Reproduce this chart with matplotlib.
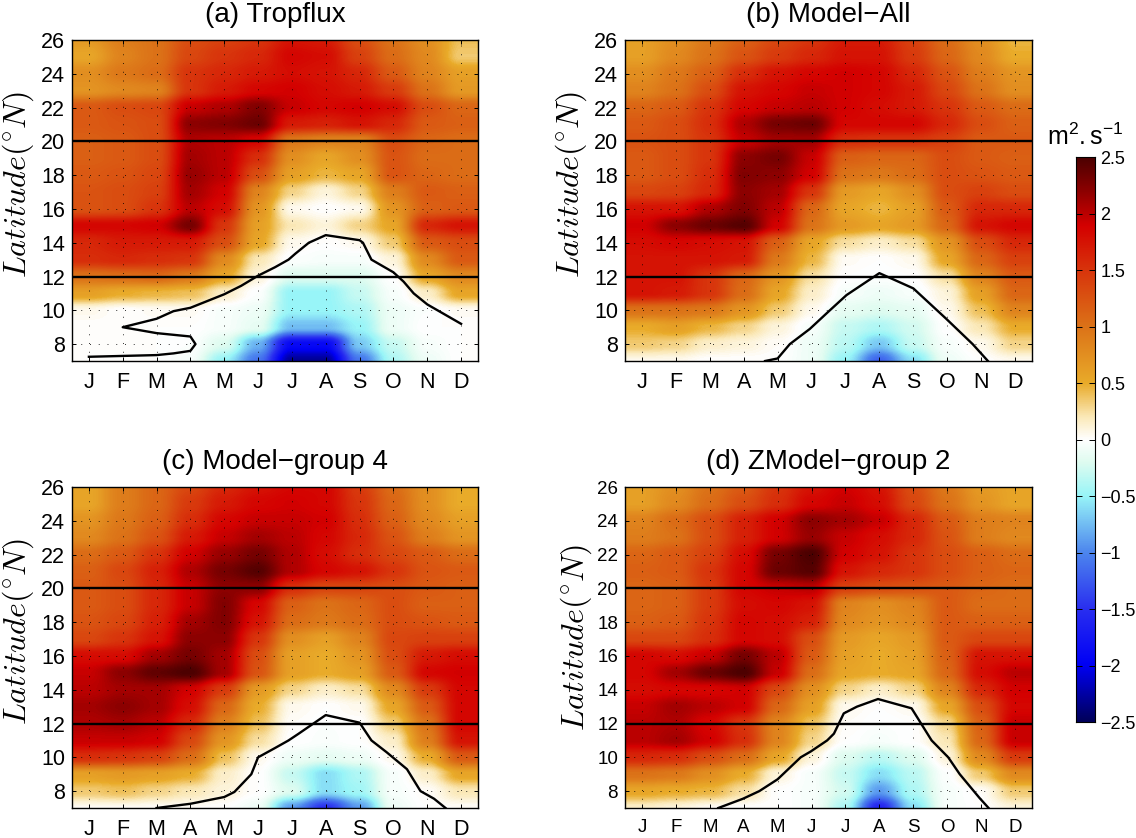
import numpy as np
import matplotlib
matplotlib.use('Agg')
import matplotlib.pyplot as plt
from matplotlib.colors import LinearSegmentedColormap

plt.rcParams['font.family'] = ['Liberation Sans', 'DejaVu Sans']
plt.rcParams['mathtext.fontset'] = 'cm'

months = ['J', 'F', 'M', 'A', 'M', 'J', 'J', 'A', 'S', 'O', 'N', 'D']
lat_ticks = list(range(8, 27, 2))
cbar_ticks = [-2.5, -2, -1.5, -1, -0.5, 0, 0.5, 1, 1.5, 2, 2.5]
cbar_labels = ['\u22122.5', '\u22122', '\u22121.5', '\u22121', '\u22120.5', '0', '0.5', '1', '1.5', '2', '2.5']

# rows run from 7N (first) to 26N (last), columns J..D
tropflux = [
    [0, 0, 0, -.05, -.5, -1.1, -2.3, -2.3, -1.1, -.4, -.1, 0],
    [0, 0, 0, -.02, -.2, -.8, -1.9, -1.9, -.7, -.3, -.05, 0],
    [0, 0, 0, 0, -.05, -.15, -.75, -.75, -.5, -.1, 0, 0],
    [.05, 0, .03, .03, -.05, -.1, -.5, -.5, -.4, -.1, -.02, .03],
    [.6, .5, .45, .4, .15, -.02, -.5, -.5, -.3, -.05, .15, .55],
    [1.0, 1.05, 1.1, .95, .55, .1, -.2, -.2, -.2, 0, .55, .8],
    [1.55, 1.6, 1.55, 1.5, .8, .2, -.02, -.05, -.05, .1, .8, 1.2],
    [1.6, 1.7, 1.7, 1.7, 1.3, .55, .05, 0, .05, .35, 1.2, 1.3],
    [1.85, 1.85, 1.9, 2.3, 1.5, .6, .2, .1, .3, .55, 1.6, 1.75],
    [1.25, 1.3, 1.5, 2.0, 1.8, .7, .05, 0, .05, .7, 1.15, 1.2],
    [1.25, 1.3, 1.4, 2.1, 1.9, .85, .3, .1, .3, .9, 1.2, 1.15],
    [1.2, 1.25, 1.35, 2.15, 2.0, 1.3, .6, .45, .55, 1.25, 1.1, 1.05],
    [1.15, 1.2, 1.3, 2.1, 2.0, 1.55, .75, .55, .75, 1.25, 1.05, 1.05],
    [1.15, 1.2, 1.3, 2.05, 2.0, 1.85, .95, .85, .85, 1.3, 1.1, 1.05],
    [1.2, 1.25, 1.3, 2.2, 2.25, 2.35, 1.7, 1.65, 1.75, 1.6, 1.2, 1.15],
    [1.2, 1.3, 1.35, 1.95, 2.05, 2.25, 1.95, 1.85, 1.9, 1.8, 1.3, 1.1],
    [.7, .8, .85, 1.5, 1.7, 1.85, 1.9, 1.8, 1.7, 1.45, 1.0, .65],
    [.75, .95, 1.05, 1.5, 1.6, 1.7, 1.8, 1.75, 1.6, 1.2, .85, .6],
    [.55, .85, 1.0, 1.35, 1.5, 1.6, 1.85, 1.8, 1.4, 1.05, .8, .35],
    [.65, .9, 1.0, 1.3, 1.4, 1.5, 1.75, 1.7, 1.3, 1.0, .75, .4],
]
model_all = [
    [.05, .05, 0, 0, 0, -.1, -.5, -1.2, -.6, -.1, 0, .05],
    [.35, .3, .15, .1, .02, -.1, -.35, -.7, -.3, -.05, .05, .3],
    [.5, .6, .45, .3, .1, -.05, -.3, -.4, -.25, 0, .2, .5],
    [1.0, 1.0, .95, .7, .35, .05, -.15, -.2, -.15, .05, .4, .85],
    [1.75, 1.7, 1.5, 1.05, .55, .15, -.05, -.1, -.05, .1, .6, 1.1],
    [1.75, 1.75, 1.5, 1.1, .7, .25, 0, -.02, 0, .25, .85, 1.2],
    [1.75, 1.75, 1.75, 1.7, .95, .45, .03, 0, .05, .55, 1.1, 1.4],
    [1.8, 1.85, 1.8, 1.75, 1.15, .55, .25, .15, .25, .7, 1.3, 1.6],
    [1.9, 2.2, 2.35, 2.45, 1.9, 1.0, .65, .55, .65, 1.1, 1.75, 1.85],
    [1.75, 1.75, 2.05, 2.25, 2.0, 1.1, .55, .45, .6, 1.2, 1.6, 1.6],
    [1.35, 1.4, 1.6, 2.2, 2.1, 1.5, .65, .55, .75, 1.3, 1.4, 1.3],
    [1.2, 1.3, 1.55, 2.25, 2.2, 1.9, 1.0, .95, 1.05, 1.3, 1.25, 1.2],
    [1.2, 1.3, 1.5, 2.2, 2.3, 1.95, 1.15, 1.1, 1.1, 1.3, 1.2, 1.15],
    [1.25, 1.3, 1.5, 1.95, 2.1, 2.1, 1.55, 1.5, 1.5, 1.4, 1.2, 1.2],
    [1.2, 1.3, 1.55, 2.05, 2.3, 2.35, 1.85, 1.85, 1.85, 1.6, 1.3, 1.15],
    [1.1, 1.2, 1.5, 1.85, 1.95, 2.0, 1.9, 1.8, 1.7, 1.5, 1.2, 1.05],
    [.85, 1.0, 1.3, 1.75, 1.85, 1.95, 1.9, 1.85, 1.7, 1.35, 1.0, .75],
    [.75, .95, 1.15, 1.55, 1.75, 1.85, 1.9, 1.85, 1.6, 1.25, .9, .7],
    [.6, .8, 1.0, 1.25, 1.45, 1.6, 1.75, 1.75, 1.45, 1.1, .8, .5],
    [.6, .75, .95, 1.15, 1.35, 1.5, 1.7, 1.7, 1.4, 1.05, .75, .45],
]
group_4 = [
    [.03, .03, .02, .02, 0, -.1, -.9, -1.5, -.9, -.1, 0, .02],
    [.35, .4, .3, .2, .1, 0, -.2, -.6, -.45, -.05, .02, .2],
    [.6, .65, .6, .5, .15, 0, -.3, -.6, -.4, -.05, .15, .55],
    [1.55, 1.5, 1.4, 1.05, .4, .05, -.1, -.15, -.1, .05, .5, 1.2],
    [1.95, 1.95, 1.9, 1.35, .7, .25, 0, -.03, 0, .15, .9, 1.75],
    [2.05, 2.1, 2.0, 1.6, .9, .4, .02, -.02, 0, .35, 1.0, 1.85],
    [2.1, 2.2, 2.1, 1.8, 1.1, .5, .05, 0, .05, .55, 1.2, 1.85],
    [2.0, 2.1, 2.1, 1.9, 1.45, .65, .3, .15, .25, .8, 1.45, 1.85],
    [1.95, 2.2, 2.4, 2.5, 2.1, 1.25, .6, .5, .6, 1.2, 1.85, 1.9],
    [1.8, 1.8, 2.1, 2.3, 2.1, 1.3, .6, .5, .7, 1.3, 1.7, 1.8],
    [1.35, 1.5, 1.75, 2.2, 2.2, 1.5, .75, .6, .85, 1.35, 1.4, 1.4],
    [1.25, 1.35, 1.65, 2.1, 2.25, 1.75, 1.05, .95, 1.05, 1.3, 1.25, 1.2],
    [1.2, 1.3, 1.6, 1.95, 2.25, 1.85, 1.15, 1.0, 1.1, 1.3, 1.15, 1.15],
    [1.2, 1.3, 1.6, 1.95, 2.2, 2.2, 1.55, 1.35, 1.35, 1.3, 1.2, 1.15],
    [1.15, 1.35, 1.65, 2.05, 2.3, 2.45, 2.05, 1.85, 1.75, 1.5, 1.25, 1.2],
    [1.05, 1.2, 1.5, 1.9, 2.15, 2.3, 2.05, 1.8, 1.55, 1.35, 1.2, 1.05],
    [.8, 1.0, 1.25, 1.7, 1.95, 2.1, 2.0, 1.85, 1.6, 1.25, .9, .7],
    [.7, .95, 1.15, 1.55, 1.85, 1.95, 1.95, 1.9, 1.55, 1.15, .8, .6],
    [.55, .9, 1.1, 1.45, 1.7, 1.85, 1.9, 1.85, 1.5, 1.1, .75, .5],
    [.55, .9, 1.1, 1.35, 1.6, 1.75, 1.85, 1.85, 1.45, 1.05, .75, .5],
]
group_2 = [
    [.15, .1, .03, 0, 0, -.05, -.4, -1.6, -.6, -.05, 0, .1],
    [.55, .5, .45, .25, 0, -.05, -.25, -.9, -.4, -.05, .02, .35],
    [1.0, .95, .75, .5, .1, -.05, -.3, -.6, -.35, -.02, .35, .8],
    [1.6, 1.55, 1.3, 1.05, .55, .1, -.2, -.35, -.2, .1, .8, 1.45],
    [2.0, 2.1, 1.9, 1.55, .85, .3, 0, -.05, 0, .2, 1.1, 1.95],
    [2.0, 2.05, 1.85, 1.5, .85, .4, .02, -.02, 0, .3, 1.15, 1.95],
    [1.95, 2.1, 2.0, 1.9, 1.1, .6, .05, 0, .05, .55, 1.3, 1.85],
    [1.8, 1.85, 1.85, 1.9, 1.35, .75, .3, .15, .3, .85, 1.6, 1.9],
    [1.85, 2.1, 2.35, 2.5, 1.95, 1.05, .55, .5, .55, 1.1, 1.8, 2.0],
    [1.85, 1.8, 1.95, 2.3, 2.0, 1.2, .6, .5, .6, 1.15, 1.75, 1.75],
    [1.35, 1.35, 1.55, 1.85, 1.8, 1.3, .65, .55, .65, 1.2, 1.35, 1.35],
    [1.15, 1.2, 1.5, 1.85, 1.8, 1.65, .8, .7, .8, 1.2, 1.15, 1.15],
    [1.1, 1.15, 1.45, 1.8, 1.85, 1.75, .85, .75, .85, 1.2, 1.05, 1.05],
    [1.1, 1.15, 1.45, 1.85, 1.95, 2.0, 1.4, 1.3, 1.25, 1.2, 1.1, 1.05],
    [1.15, 1.2, 1.5, 1.85, 2.35, 2.45, 1.75, 1.6, 1.5, 1.3, 1.15, 1.1],
    [1.1, 1.2, 1.4, 1.8, 2.3, 2.5, 1.9, 1.75, 1.5, 1.3, 1.15, 1.05],
    [.9, 1.0, 1.3, 1.65, 1.9, 2.15, 1.95, 1.8, 1.6, 1.25, .9, .8],
    [.85, 1.05, 1.3, 1.65, 1.9, 2.2, 2.1, 1.95, 1.6, 1.2, .9, .85],
    [.6, .8, 1.05, 1.3, 1.55, 1.85, 1.95, 1.8, 1.35, 1.0, .7, .55],
    [.6, .75, 1.0, 1.2, 1.5, 1.75, 1.9, 1.75, 1.3, .95, .65, .55],
]

# black contour
curve_a_x = [1, 3, 3.5, 4, 4.15, 4, 3, 2, 3, 3.5, 4, 4.5, 5, 5.5, 6, 6.5, 6.9, 7.1, 7.5, 8, 9, 9.1, 9.35, 10, 10.3, 10.6, 11, 12]
curve_a_y = [7.25, 7.35, 7.45, 7.6, 8, 8.45, 8.65, 9, 9.5, 9.95, 10.15, 10.55, 10.95, 11.45, 12.05, 12.55, 13, 13.35, 14, 14.45, 14.15, 14, 13, 12.25, 11.7, 11, 10.35, 9.2]
curve_b_x = [4.63, 5.0, 5.36, 5.95, 6.54, 7.03, 8, 9, 9.97, 10.75, 11.2]
curve_b_y = [7, 7.15, 8, 8.9, 10, 10.9, 12.2, 11.3, 9.5, 8, 7]
curve_c_x = [3, 4, 5, 5.3, 5.8, 6, 6.5, 6.9, 7.2, 7.6, 8, 9, 9.35, 9.8, 10.4, 10.8, 11.2, 11.54]
curve_c_y = [7, 7.25, 7.65, 7.95, 9, 10, 10.55, 11, 11.4, 11.95, 12.5, 12.05, 11, 10.3, 9.3, 8, 7.55, 7]
curve_d_x = [3.25, 3.98, 4.46, 5, 5.68, 5.98, 6.46, 6.66, 6.95, 7.34, 7.96, 8.95, 9.54, 10.03, 10.37, 10.95, 11.22]
curve_d_y = [7, 7.55, 8, 8.7, 10, 10.35, 11, 11.4, 12.6, 13, 13.45, 12.9, 11, 10, 9, 7.6, 7]

W, H = 1136, 838
cmap = LinearSegmentedColormap.from_list('tx', [
    (0.0, '#00005a'), (0.1, '#0000f5'), (0.2, '#2a2ff0'), (0.3, '#4d86ee'),
    (0.4, '#98f5f8'), (0.46, '#dffcf0'), (0.5, '#ffffff'), (0.54, '#fbe9b8'),
    (0.6, '#e9ab2a'), (0.7, '#dc7318'), (0.8, '#d8350c'), (0.88, '#d40000'),
    (0.94, '#8e0000'), (1.0, '#4d0000')], N=256)


def pixel_axes(fig, left, top, right, bottom):
    return fig.add_axes([left / W, 1 - bottom / H, (right - left) / W, (bottom - top) / H])


def draw_panel(ax, data, cx, cy, title, tick_size, label_x, label_y):
    ax.imshow(np.array(data), origin='lower', extent=(0.5, 12.5, 6.5, 26.5), aspect='auto',
              cmap=cmap, vmin=-2.5, vmax=2.5, interpolation='hanning')
    ax.set_xlim(0.5, 12.5)
    ax.set_ylim(7, 26)
    ax.axhline(20, color='black', lw=1.7)
    ax.axhline(12, color='black', lw=1.7)
    ax.plot(cx, cy, color='black', lw=1.7)
    ax.set_xticks(range(1, 13))
    ax.set_xticklabels(months)
    ax.set_yticks(lat_ticks)
    ax.tick_params(axis='both', direction='in', top=True, right=True, length=3, width=0.7, labelsize=tick_size)
    ax.tick_params(axis='x', pad=8)
    ax.tick_params(axis='y', pad=5)
    ax.grid(True, color='black', lw=0.7, ls=(0, (1, 8)), alpha=0.8)
    ax.set_ylabel(r'$Latitude(^{\circ}N)$', fontsize=23)
    # label_x is the right edge of the rotated label
    ax.yaxis.set_label_coords(label_x, label_y)
    ax.set_title(title, fontsize=20, pad=13)
    for s in ax.spines.values():
        s.set_linewidth(1.0)


fig = plt.figure(figsize=(W / 100, H / 100), dpi=100)

ax_a = pixel_axes(fig, 72, 40, 478, 361)
ax_b = pixel_axes(fig, 625, 40, 1032, 361)
ax_c = pixel_axes(fig, 72, 487, 478, 808)
ax_d = pixel_axes(fig, 625, 487, 1032, 808)

draw_panel(ax_a, tropflux, curve_a_x, curve_a_y, '(a) Tropflux', 15.5, -0.088, 0.55)
draw_panel(ax_b, model_all, curve_b_x, curve_b_y, '(b) Model\u2212All', 15.5, -0.088, 0.55)
draw_panel(ax_c, group_4, curve_c_x, curve_c_y, '(c) Model\u2212group 4', 15.5, -0.088, 0.548)
draw_panel(ax_d, group_2, curve_d_x, curve_d_y, '(d) ZModel\u2212group 2', 13.5, -0.075, 0.53)

cax = pixel_axes(fig, 1076, 157, 1095, 722)
grad = np.linspace(-2.5, 2.5, 256).reshape(-1, 1)
cax.imshow(grad, origin='lower', extent=(0, 1, -2.5, 2.5), aspect='auto', cmap=cmap, vmin=-2.5, vmax=2.5)
cax.set_xticks([])
cax.set_yticks(cbar_ticks)
cax.set_yticklabels(cbar_labels)
cax.yaxis.tick_right()
cax.tick_params(axis='y', direction='in', length=4, width=0.7, left=True, right=True, labelsize=13, pad=4)
cax.set_title(r'$\mathregular{m^2.s^{-1}}$', fontsize=18, pad=9, x=0.5)

fig.savefig('out.png', dpi=100)
